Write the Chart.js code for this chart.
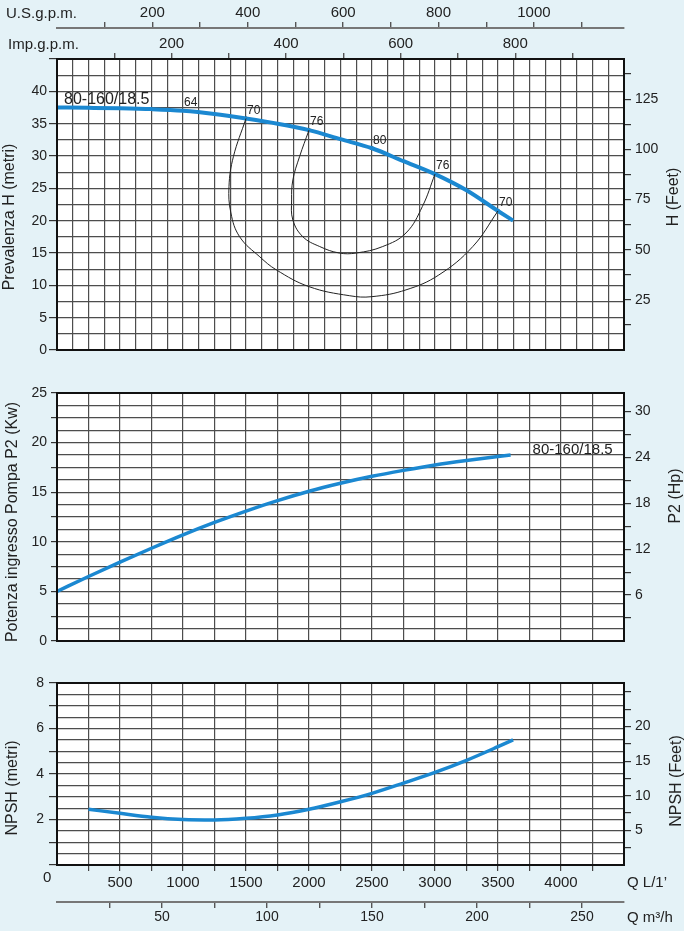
<!DOCTYPE html>
<html>
<head>
<meta charset="utf-8">
<script src="https://cdn.jsdelivr.net/npm/chart.js@4.4.0/dist/chart.umd.min.js"></script>
<style>
  html, body { margin: 0; padding: 0; background: #e4f2f7; }
  body { width: 684px; height: 931px; position: relative; overflow: hidden; }
  canvas { position: absolute; left: 0; }
</style>
</head>
<body>
<canvas id="cH" width="684" height="365" style="top:0"></canvas>
<canvas id="cP" width="684" height="290" style="top:365px"></canvas>
<canvas id="cN" width="684" height="276" style="top:655px"></canvas>
<script>
// flow Q in L/min
const Q_MAX = 4500;
const curveName = '80-160/18.5';

// head curve H (m)
const qH = [0, 250, 500, 750, 1000, 1250, 1500, 1750, 2000, 2250, 2500, 2750, 3000, 3250, 3500, 3620];
const hH = [37.5, 37.45, 37.38, 37.25, 37.0, 36.5, 35.8, 35.0, 34.0, 32.6, 31.2, 29.2, 27.2, 24.7, 21.5, 20.0];

// efficiency marks on the head curve
const effQ = [1000, 1500, 2000, 2500, 3000, 3500];
const effH = [37.0, 35.8, 34.0, 31.2, 27.2, 21.5];
const effVal = ['64', '70', '76', '80', '76', '70'];

// iso-efficiency loops
const q70 = [1500, 1400, 1365, 1380, 1450, 1610, 1740, 2000, 2320, 2500, 2770, 3030, 3300, 3500];
const h70 = [35.8, 29.9, 25.3, 21.2, 17.5, 14.4, 12.4, 9.8, 8.4, 8.25, 9.3, 11.6, 16.0, 21.5];
const q76 = [2000, 1925, 1872, 1862, 1872, 1952, 2085, 2240, 2375, 2585, 2770, 2900, 3000];
const h76 = [34.0, 29.9, 26.3, 23.2, 20.1, 17.5, 16.0, 15.0, 15.0, 16.0, 18.1, 22.2, 27.2];

// power P2 (kW)
const qP = [0, 250, 500, 750, 1000, 1250, 1500, 1750, 2000, 2250, 2500, 2750, 3000, 3250, 3500, 3600];
const pP = [5.0, 6.5, 7.95, 9.35, 10.7, 11.95, 13.1, 14.15, 15.1, 15.9, 16.6, 17.2, 17.75, 18.2, 18.6, 18.75];

// NPSH (m)
const qN = [250, 500, 750, 1000, 1250, 1500, 1750, 2000, 2250, 2500, 2750, 3000, 3250, 3500, 3620];
const nN = [2.45, 2.27, 2.1, 2.0, 1.98, 2.05, 2.2, 2.45, 2.78, 3.15, 3.6, 4.07, 4.6, 5.2, 5.5];

const FONT = '"Liberation Sans", Arial, sans-serif';
const BLUE = '#1b88d1';
const GRID = '#4d4d4d';
const INK = '#222';

const pts = (xs, ys) => xs.map((x, i) => ({ x: x, y: ys[i] }));
const near = (v, step) => Math.abs(v / step - Math.round(v / step)) < 1e-6;
const fixW = w => s => { s.width = w; };
const fixH = h => s => { s.height = h; };
const f = size => ({ family: FONT, size: size });

function txt(ctx, s, x, y, size, align, rot, fam) {
  ctx.save();
  ctx.translate(x, y);
  if (rot) ctx.rotate(rot);
  ctx.font = size + 'px ' + (fam || FONT);
  ctx.fillStyle = INK;
  ctx.textAlign = align || 'left';
  ctx.textBaseline = 'middle';
  ctx.fillText(s, 0, 0);
  ctx.restore();
}

const frame = {
  id: 'frame',
  beforeDraw(chart) {
    const a = chart.chartArea, c = chart.ctx;
    c.save();
    c.fillStyle = '#fff';
    c.fillRect(a.left, a.top, a.right - a.left, a.bottom - a.top);
    c.restore();
  },
  afterDraw(chart) {
    const a = chart.chartArea, c = chart.ctx;
    c.save();
    c.strokeStyle = '#111';
    c.lineWidth = 2;
    c.strokeRect(a.left, a.top, a.right - a.left, a.bottom - a.top);
    c.restore();
  }
};

// shared x scale (grid only)
function xGrid(step, h) {
  return {
    type: 'linear', position: 'bottom', min: 0, max: Q_MAX, weight: 0,
    ticks: { stepSize: step, display: false },
    grid: { color: GRID, lineWidth: 1.2, drawTicks: false },
    border: { display: false },
    afterFit: fixH(h)
  };
}

function yLeft(max, step, tickEvery, labelOk, tl, pad, size) {
  return {
    type: 'linear', position: 'left', min: 0, max: max,
    ticks: { stepSize: step, font: f(size), color: INK, padding: pad, autoSkip: false,
      callback: v => labelOk(v) ? v : '' },
    grid: { color: GRID, lineWidth: 1.2, tickLength: tl,
      tickColor: ctx => near(ctx.tick.value, tickEvery) ? '#333' : 'rgba(0,0,0,0)' },
    border: { display: false },
    afterFit: fixW(57)
  };
}

function yRight(max, step, labelOk) {
  return {
    type: 'linear', position: 'right', axis: 'y', min: 0, max: max,
    ticks: { stepSize: step, font: f(14), color: INK, padding: 4, autoSkip: false, includeBounds: false,
      callback: v => labelOk(v) ? v : '' },
    grid: { drawOnChartArea: false, tickLength: 7, lineWidth: 1.2,
      tickColor: ctx => ctx.tick.value > 0 ? '#333' : 'rgba(0,0,0,0)' },
    border: { display: false },
    afterFit: fixW(60)
  };
}

const common = {
  responsive: false,
  animation: false,
  events: [],
  plugins: { legend: { display: false }, tooltip: { enabled: false } },
  elements: { point: { radius: 0 } }
};

// ---------- Head chart ----------
new Chart(document.getElementById('cH'), {
  type: 'line',
  data: {
    datasets: [
      { data: pts(q70, h70), borderColor: INK, borderWidth: 1, tension: 0.4, fill: false },
      { data: pts(q76, h76), borderColor: INK, borderWidth: 1, tension: 0.4, fill: false },
      { data: pts(qH, hH), borderColor: BLUE, borderWidth: 4, cubicInterpolationMode: 'monotone', fill: false },
      { data: pts(effQ.slice(1), effH.slice(1)), showLine: false, pointRadius: 2, pointBackgroundColor: '#111', pointBorderWidth: 0 }
    ]
  },
  options: Object.assign({}, common, {
    layout: { padding: 0 },
    scales: {
      x: xGrid(125, 15),
      us: {
        type: 'linear', position: 'top', axis: 'x', min: 0, max: Q_MAX / 3.785, weight: 2,
        ticks: { stepSize: 100, includeBounds: false, autoSkip: false, maxRotation: 0, font: f(15), color: INK, padding: 0,
          callback: v => (v > 0 && near(v, 200)) ? v : '' },
        grid: { drawOnChartArea: false, tickLength: 6, lineWidth: 1.4,
          tickColor: ctx => ctx.tick.value > 0 ? '#555' : 'rgba(0,0,0,0)' },
        border: { display: true, color: '#777', width: 2 },
        afterFit: fixH(28)
      },
      imp: {
        type: 'linear', position: 'top', axis: 'x', min: 0, max: Q_MAX / 4.546, weight: 1,
        ticks: { stepSize: 100, includeBounds: false, autoSkip: false, maxRotation: 0, font: f(15), color: INK, padding: 0,
          callback: v => (v > 0 && near(v, 200)) ? v : '' },
        grid: { drawOnChartArea: false, tickLength: 6, lineWidth: 1.4,
          tickColor: ctx => ctx.tick.value > 0 ? '#555' : 'rgba(0,0,0,0)' },
        border: { display: false },
        afterFit: fixH(31)
      },
      y: yLeft(45, 2.5, 5, v => near(v, 5) && v < 45, 8, 2, 14),
      yft: yRight(145, 12.5, v => v > 0 && near(v, 25))
    }
  }),
  plugins: [frame, {
    id: 'hText',
    afterDraw(chart) {
      const c = chart.ctx, x = chart.scales.x, y = chart.scales.y;
      txt(c, 'U.S.g.p.m.', 6, 14, 15);
      txt(c, 'Imp.g.p.m.', 8, 45, 15);
      txt(c, curveName, x.getPixelForValue(qH[0]) + 7, y.getPixelForValue(hH[0]) - 8, 16);
      effQ.forEach((q, i) => {
        c.save();
        c.font = '12px "Liberation Sans Narrow", ' + FONT;
        c.fillStyle = INK;
        c.textBaseline = 'bottom';
        c.fillText(effVal[i], x.getPixelForValue(q) + 1, y.getPixelForValue(effH[i]) - 2);
        c.restore();
      });
      txt(c, 'Prevalenza H (metri)', 10, 217, 16, 'center', -Math.PI / 2);
      txt(c, 'H (Feet)', 674, 197, 16, 'center', -Math.PI / 2);
    }
  }]
});

// ---------- Power chart ----------
new Chart(document.getElementById('cP'), {
  type: 'line',
  data: {
    datasets: [
      { data: pts(qP, pP), borderColor: BLUE, borderWidth: 3.5, cubicInterpolationMode: 'monotone', fill: false }
    ]
  },
  options: Object.assign({}, common, {
    layout: { padding: { top: 28 } },
    scales: {
      x: xGrid(250, 14),
      y: yLeft(25, 1.25, 2.5, v => near(v, 5), 6, 4, 14),
      yhp: yRight(32.4, 3, v => v > 0 && near(v, 6))
    }
  }),
  plugins: [frame, {
    id: 'pText',
    afterDraw(chart) {
      const c = chart.ctx, x = chart.scales.x, y = chart.scales.y;
      const n = qP.length - 1;
      txt(c, curveName, x.getPixelForValue(qP[n]) + 22, y.getPixelForValue(pP[n]) - 5, 15);
      txt(c, 'Potenza ingresso Pompa P2 (Kw)', 13, 157, 16, 'center', -Math.PI / 2);
      txt(c, 'P2 (Hp)', 676, 131, 16, 'center', -Math.PI / 2);
    }
  }]
});

// ---------- NPSH chart ----------
new Chart(document.getElementById('cN'), {
  type: 'line',
  data: {
    datasets: [
      { data: pts(qN, nN), borderColor: BLUE, borderWidth: 3.5, cubicInterpolationMode: 'monotone', fill: false }
    ]
  },
  options: Object.assign({}, common, {
    layout: { padding: { top: 28 } },
    scales: {
      x: {
        type: 'linear', position: 'bottom', min: 0, max: Q_MAX, weight: 1,
        ticks: { stepSize: 250, autoSkip: false, maxRotation: 0, font: f(15), color: INK, padding: 3,
          callback: v => (v > 0 && v < Q_MAX && near(v, 500)) ? v : '' },
        grid: { color: GRID, lineWidth: 1.2, tickLength: 6,
          tickColor: ctx => (ctx.tick.value > 0 && ctx.tick.value < Q_MAX) ? '#444' : 'rgba(0,0,0,0)' },
        border: { display: false },
        afterFit: fixH(37)
      },
      m3: {
        type: 'linear', position: 'bottom', axis: 'x', min: 0, max: Q_MAX * 60 / 1000, weight: 2,
        ticks: { stepSize: 25, includeBounds: false, autoSkip: false, maxRotation: 0, font: f(14), color: INK, padding: 1,
          callback: v => (v > 0 && near(v, 50)) ? v : '' },
        grid: { drawOnChartArea: false, tickLength: 6, lineWidth: 1.4,
          tickColor: ctx => ctx.tick.value > 0 ? '#555' : 'rgba(0,0,0,0)' },
        border: { display: true, color: '#777', width: 2 },
        afterFit: fixH(29)
      },
      y: yLeft(8, 0.5, 1, v => v > 0 && near(v, 2), 8, 5, 14),
      yft: yRight(26.3, 2.5, v => v > 0 && v < 25 && near(v, 5))
    }
  }),
  plugins: [frame, {
    id: 'nText',
    afterDraw(chart) {
      const c = chart.ctx;
      txt(c, '0', 43, 223, 15);
      txt(c, 'Q L/1’', 627, 228, 15);
      txt(c, 'Q m³/h', 627, 263, 15);
      txt(c, 'NPSH (metri)', 13, 133, 16, 'center', -Math.PI / 2);
      txt(c, 'NPSH (Feet)', 677, 126, 16, 'center', -Math.PI / 2);
    }
  }]
});
</script>
</body>
</html>
